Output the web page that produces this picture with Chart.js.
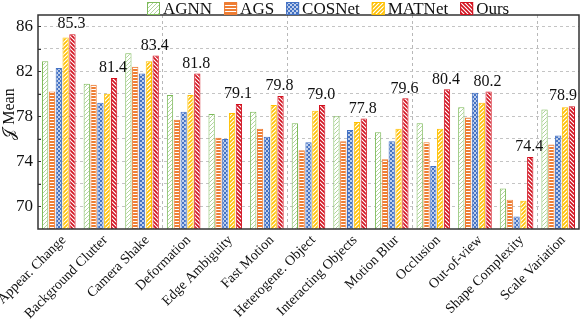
<!DOCTYPE html>
<html>
<head>
<meta charset="utf-8">
<script src="https://cdn.jsdelivr.net/npm/chart.js@4/dist/chart.umd.min.js"></script>
<style>
html,body{margin:0;padding:0;background:#fff;}
#wrap{width:581px;height:326px;}
</style>
</head>
<body>
<div id="wrap"><canvas id="c" width="581" height="326"></canvas></div>
<script>
const categories = ["Appear. Change","Background Clutter","Camera Shake","Deformation","Edge Ambiguity","Fast Motion","Heterogene. Object","Interacting Objects","Motion Blur","Occlusion","Out-of-view","Shape Complexity","Scale Variation"];
const seriesNames = ["AGNN","AGS","COSNet","MATNet","Ours"];
const agnn   = [82.9,80.9,83.6,79.9,78.2,78.4,77.4,78.0,76.6,77.4,78.8,71.6,78.6];
const ags    = [80.2,80.8,82.4,77.7,76.1,76.9,75.0,75.8,74.2,75.7,77.9,70.6,75.5];
const cosnet = [82.3,79.2,81.8,78.4,76.0,76.2,75.7,76.8,75.8,73.6,80.1,69.1,76.3];
const matnet = [85.0,80.0,82.9,79.9,78.3,79.0,78.5,77.5,76.9,76.9,79.2,70.5,78.8];
const ours   = [85.3,81.4,83.4,81.8,79.1,79.8,79.0,77.8,79.6,80.4,80.2,74.4,78.9];
const yTickLabels = [70,74,78,82,86];
const yGridValues = [70,72,74,76,78,80,82,84,86];
const yTitle = '𝒥 Mean';

const SERIF = "'Liberation Serif','DejaVu Serif',serif";
const colors = ["#7dba5a","#ee7d33","#4472c4","#ffc000","#d2101e"];

function makePattern(kind, color){
  const s = kind==='h' ? 3 : 4;
  const cv = document.createElement('canvas');
  cv.width = s; cv.height = s;
  const g = cv.getContext('2d');
  g.fillStyle = '#fff'; g.fillRect(0,0,s,s);
  g.fillStyle = color; g.strokeStyle = color;
  if(kind==='h'){
    g.fillRect(0,0,s,2);
  } else if(kind==='c'){
    g.fillRect(0,0,2,2); g.fillRect(2,2,2,2);
    g.globalAlpha=0.35; g.fillRect(2,0,2,2); g.fillRect(0,2,2,2);
  } else if(kind==='f'){
    g.lineWidth = 1.6;
    g.beginPath();
    g.moveTo(-1,s+1); g.lineTo(s+1,-1);
    g.moveTo(-1,1); g.lineTo(1,-1);
    g.moveTo(s-1,s+1); g.lineTo(s+1,s-1);
    g.stroke();
  } else if(kind==='b'){
    g.lineWidth = 1.6;
    g.beginPath();
    g.moveTo(-1,-1); g.lineTo(s+1,s+1);
    g.moveTo(s-1,-1); g.lineTo(s+1,1);
    g.moveTo(-1,s-1); g.lineTo(1,s+1);
    g.stroke();
  } else if(kind==='g'){
    g.globalAlpha = 0.6;
    g.lineWidth = 1;
    g.beginPath();
    g.moveTo(-1,s+1); g.lineTo(s+1,-1);
    g.stroke();
  }
  return g.createPattern(cv,'repeat');
}
const kinds = ['g','h','c','f','b'];
const patterns = colors.map((c,i)=>makePattern(kinds[i], c));
const seriesData = [agnn, ags, cosnet, matnet, ours];

const datasets = seriesNames.map((n,i)=>({
  label:n,
  data:seriesData[i],
  backgroundColor:patterns[i],
  borderColor:colors[i],
  borderWidth:1,
  categoryPercentage:0.82,
  barPercentage:0.92
}));

const framePlugin = {
  id:'frame',
  afterDraw(chart){
    const {ctx, chartArea:a, scales} = chart;
    const y = scales.y;
    ctx.save();
    ctx.strokeStyle = '#333'; ctx.lineWidth = 1;
    yGridValues.forEach(v=>{
      const py = Math.round(y.getPixelForValue(v))+0.5;
      ctx.beginPath(); ctx.moveTo(a.left, py); ctx.lineTo(a.left+3, py); ctx.stroke();
    });
    ctx.strokeStyle = '#333'; ctx.lineWidth = 1.5;
    ctx.strokeRect(a.left, a.top, a.right-a.left, a.bottom-a.top);
    // y title
    ctx.save();
    ctx.translate(10, (a.top + a.bottom)/2 - 8);
    ctx.rotate(-Math.PI/2);
    ctx.font = "16px " + SERIF;
    ctx.fillStyle = '#111';
    ctx.textAlign = 'center'; ctx.textBaseline = 'middle';
    ctx.fillText(yTitle, 0, 0);
    ctx.restore();
    // data labels on Ours
    const meta = chart.getDatasetMeta(4);
    ctx.fillStyle = '#111';
    ctx.font = "16px " + SERIF;
    ctx.textAlign = 'center'; ctx.textBaseline = 'bottom';
    meta.data.forEach((el,i)=>{
      const t = ours[i].toFixed(1);
      const w = ctx.measureText(t).width;
      let cx = el.x - 1;
      if(cx + w/2 > a.right - 2) cx = a.right - 2 - w/2;
      ctx.fillText(t, cx, el.y - 2);
    });
    // legend
    ctx.font = "17px " + SERIF;
    ctx.textAlign = 'left'; ctx.textBaseline = 'middle';
    const box = 13, gap = 3, sep = 12;
    let x = 147;
    const cy = 8.5;
    seriesNames.forEach((n,i)=>{
      ctx.fillStyle = patterns[i];
      ctx.fillRect(x, cy-box/2, box, box);
      ctx.strokeStyle = colors[i]; ctx.lineWidth = 1;
      ctx.strokeRect(x+0.5, cy-box/2+0.5, box-1, box-1);
      ctx.fillStyle = '#111';
      ctx.fillText(n, x+box+gap, cy+1);
      x += box + gap + ctx.measureText(n).width + sep;
    });
    ctx.restore();
  }
};

new Chart(document.getElementById('c'), {
  type:'bar',
  data:{labels:categories, datasets},
  options:{
    responsive:false,
    animation:false,
    devicePixelRatio:1,
    layout:{padding:{top:15,right:2,left:0,bottom:0}},
    plugins:{legend:{display:false}, tooltip:{enabled:false}},
    scales:{
      x:{
        grid:{
          offset:true,
          drawTicks:false,
          lineWidth:1,
          color:(c)=> (c.index>0 && c.index%3===0 && c.index<13) ? '#b8b8b8' : 'rgba(0,0,0,0)'
        },
        border:{display:false, dash:[3,3]},
        ticks:{
          color:'#111',
          font:{family:SERIF,size:14},
          minRotation:45, maxRotation:45,
          autoSkip:false,
          padding:3,
          labelOffset:5
        },
        afterFit(s){ s.height = 97; s.paddingLeft = 0; s.paddingRight = 0; }
      },
      y:{
        min:68, max:87,
        grid:{
          drawTicks:false,
          lineWidth:1,
          color:'#c4c4c4'
        },
        border:{display:false, dash:[3,3]},
        afterBuildTicks(s){ s.ticks = yGridValues.map(v=>({value:v})); },
        ticks:{
          color:'#111',
          font:{family:SERIF,size:17},
          padding:5,
          callback:(v)=> yTickLabels.includes(v) ? String(v) : ''
        },
        title:{display:false},
        afterFit(s){ s.width = 38; s.paddingTop = 0; s.paddingBottom = 0; }
      }
    }
  },
  plugins:[framePlugin]
});
</script>
</body>
</html>
